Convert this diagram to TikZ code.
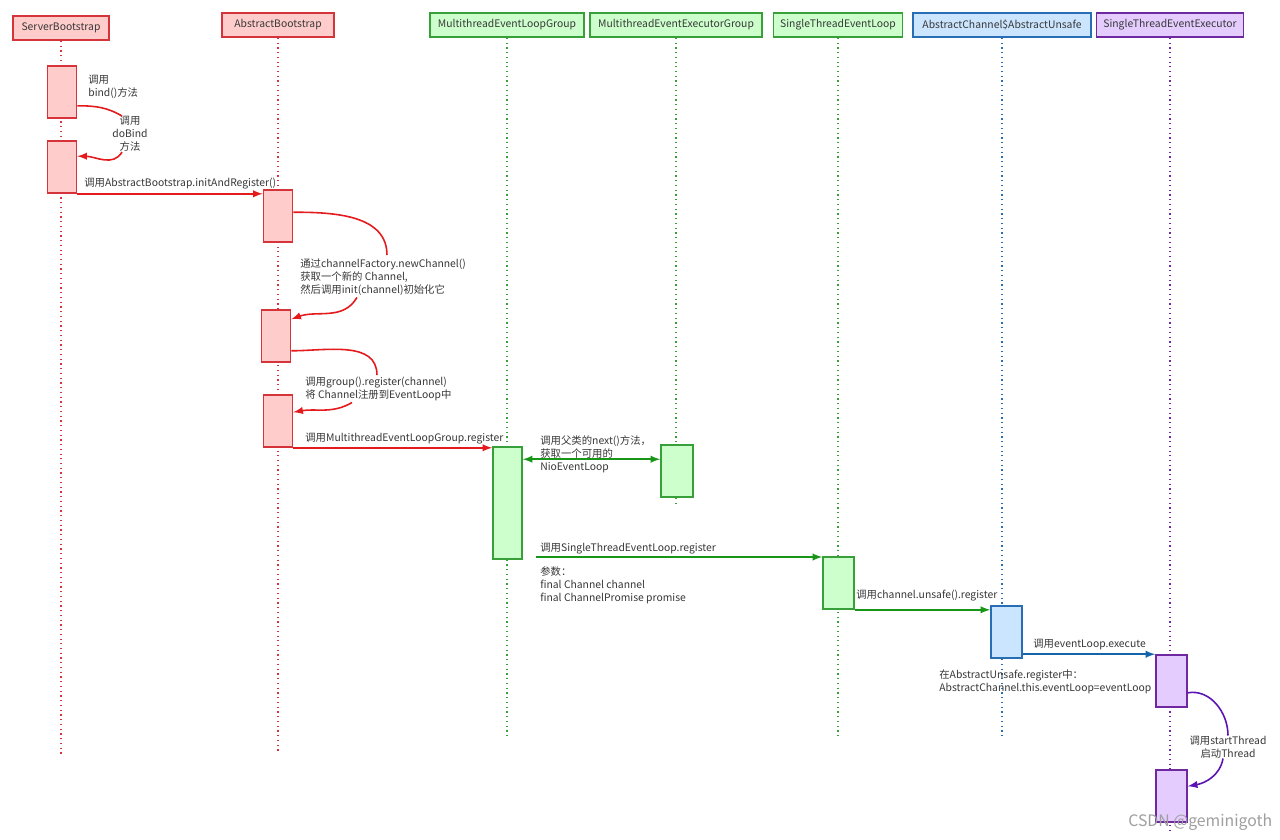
\documentclass[tikz,border=0pt]{standalone}
\usepackage{fontspec}
\setmainfont{Noto Sans CJK SC}
\usepackage{xcolor}
\usepackage{tikz}
\usetikzlibrary{arrows}

\definecolor{redline}{RGB}{212,52,58}
\definecolor{redfill}{RGB}{255,204,204}
\definecolor{redarrow}{RGB}{228,26,28}
\definecolor{greenline}{RGB}{56,160,56}
\definecolor{greenfill}{RGB}{204,255,204}
\definecolor{greenarrow}{RGB}{24,150,24}
\definecolor{blueline}{RGB}{40,110,180}
\definecolor{bluefill}{RGB}{204,229,255}
\definecolor{bluearrow}{RGB}{20,100,170}
\definecolor{purpleline}{RGB}{110,40,160}
\definecolor{purplefill}{RGB}{229,204,255}
\definecolor{purplearrow}{RGB}{90,20,180}
\definecolor{txt}{RGB}{55,55,55}

\begin{document}
\begin{tikzpicture}[x=0.02cm,y=-0.02cm,
	font=\fontsize{5.9}{7.4}\selectfont,
	head/.style={draw=#1line,fill=#1fill,line width=0.9pt,minimum height=0.48cm,inner sep=0pt,text=txt},
	act/.style={draw=#1line,fill=#1fill,line width=0.9pt,minimum width=0.58cm,minimum height=1.04cm,inner sep=0pt},
	life/.style={draw=#1line,dotted,line width=0.7pt},
	call/.style={draw=#1arrow,line width=0.9pt},
	lbl/.style={inner sep=0pt,align=left,text=txt}]
		\useasboundingbox[fill=white] (0,0) rectangle (1280,839);
		% lifeline heads
		\node[head=red,minimum width=1.92cm] (hSB) at (61,28) {ServerBootstrap};
		\node[head=red,minimum width=2.24cm] (hAB) at (278,25) {AbstractBootstrap};
		\node[head=green,minimum width=3.08cm] (hMEL) at (507,25) {MultithreadEventLoopGroup};
		\node[head=green,minimum width=3.44cm] (hMEEG) at (676,25) {MultithreadEventExecutorGroup};
		\node[head=green,minimum width=2.58cm] (hSTEL) at (838,25) {SingleThreadEventLoop};
		\node[head=blue,minimum width=3.56cm] (hACAU) at (1002,25) {AbstractChannel\$AbstractUnsafe};
		\node[head=purple,minimum width=2.94cm] (hSTEE) at (1170,25) {SingleThreadEventExecutor};
		\coordinate (eSB) at (61,755);
		\coordinate (eAB) at (278,752);
		\coordinate (eMEL) at (507,738);
		\coordinate (eMEEG) at (676,505);
		\coordinate (eSTEL) at (838,738);
		\coordinate (eACAU) at (1002,738);
		\coordinate (eSTEE) at (1170,832);
		\draw[life=red] (hSB) -- (eSB);
		\draw[life=red] (hAB) -- (eAB);
		\draw[life=green] (hMEL) -- (eMEL);
		\draw[life=green] (hMEEG) -- (eMEEG);
		\draw[life=green] (hSTEL) -- (eSTEL);
		\draw[life=blue] (hACAU) -- (eACAU);
		\draw[life=purple] (hSTEE) -- (eSTEE);
		%
		\node[act=red] (sb1) at (62,92) {};
		\node[act=red] (sb2) at (62,167) {};
		\node[act=red] (ab1) at (278,216) {};
		\node[act=red] (ab2) at (276,336) {};
		\node[act=red] (ab3) at (278,421) {};
		\node[act=green,minimum height=2.24cm] (mel) at (507.5,503) {};
		\node[act=green,minimum width=0.64cm] (meeg) at (677,471) {};
		\node[act=green,minimum width=0.62cm] (stel) at (838.5,583) {};
		\node[act=blue,minimum width=0.62cm] (acau) at (1006.5,632) {};
		\node[act=purple,minimum width=0.62cm] (stee1) at (1171.5,681) {};
		\node[act=purple,minimum width=0.62cm] (stee2) at (1171.5,796) {};
		%
		\node[lbl,anchor=north west] (lBind) at (88,75) {调用\\bind()方法};
		\node[lbl,align=center] (lDoBind) at (130,134) {调用\\doBind\\方法};
		\node[lbl,anchor=base west] (lInit) at (84,186) {调用AbstractBootstrap.initAndRegister()};
		\node[lbl,anchor=north west] (lNew) at (300,258) {通过channelFactory.newChannel()\\获取一个新的 Channel,\\然后调用init(channel)初始化它};
		\node[lbl,anchor=north west] (lGroup) at (305,377) {调用group().register(channel)\\将 Channel注册到EventLoop中};
		\node[lbl,anchor=base west] (lMel) at (305,441) {调用MultithreadEventLoopGroup.register};
		\node[lbl,anchor=north west] (lNext) at (540,435) {调用父类的next()方法，\\获取一个可用的\\NioEventLoop};
		\node[lbl,anchor=base west] (lStel) at (540,551) {调用SingleThreadEventLoop.register};
		\node[lbl,anchor=north west] (lParam) at (540,566) {参数：\\final Channel channel\\final ChannelPromise promise};
		\node[lbl,anchor=base west] (lUnsafe) at (856,598) {调用channel.unsafe().register};
		\node[lbl,anchor=base west] (lExec) at (1033,647) {调用eventLoop.execute};
		\node[lbl,anchor=north west] (lReg) at (939,669) {在AbstractUnsafe.register中：\\AbstractChannel.this.eventLoop=eventLoop};
		\node[lbl,align=center] (lStart) at (1228,747) {调用startThread\\启动Thread};
		\coordinate (nx) at ([yshift=-0.26cm]mel.north east);
		\coordinate (s6) at (536,557);
		% horizontal arrows
		\draw[call=red,->,>=latex] (sb2.south east) -- (sb2.south east -| ab1.west);
		\draw[call=red,->,>=latex] (ab3.south east) -- (ab3.south east -| mel.west);
		\draw[call=green,<->,>=latex] (nx) -- (nx -| meeg.west);
		\draw[call=green,->,>=latex] (s6) -- (s6 -| stel.west);
		\draw[call=green,->,>=latex] (stel.south east) -- (stel.south east -| acau.west);
		\draw[call=blue,->,>=latex] (stee1.north west -| acau.east) -- (stee1.north west);
		% self calls
		\draw[call=red] ([yshift=0.26cm]sb1.south east) to[out=0,in=150] ([xshift=-0.16cm]lDoBind.north);
		\draw[call=red,->,>=latex] ([xshift=-0.16cm]lDoBind.south) to[out=-120,in=0] ([yshift=-0.32cm]sb2.north east);
		\draw[call=red] ([yshift=-0.46cm]ab1.north east) to[out=0,in=90] ([xshift=1.74cm,yshift=0.06cm]lNew.north west);
		\draw[call=red,->,>=latex] ([xshift=1.14cm,yshift=-0.04cm]lNew.south west) to[out=-120,in=20] ([yshift=-0.2cm]ab2.north east);
		\draw[call=red] ([yshift=0.24cm]ab2.south east) to[out=0,in=90] ([xshift=1.44cm,yshift=0.04cm]lGroup.north west);
		\draw[call=red,->,>=latex] ([xshift=0.94cm,yshift=-0.02cm]lGroup.south west) to[out=-150,in=10] ([yshift=-0.36cm]ab3.north east);
		\draw[call=purple] ([yshift=0.3cm]stee1.south east) to[out=10,in=90] (lStart.north);
		\draw[call=purple,->,>=latex] ([xshift=-0.1cm]lStart.south) to[out=-100,in=10] ([yshift=-0.34cm]stee2.north east);
		%
		\node[anchor=west,text=gray!75,font=\fontsize{9}{10}\selectfont,inner sep=0pt] (wm) at (1128,822) {CSDN @geminigoth};
	\end{tikzpicture}
\end{document}
